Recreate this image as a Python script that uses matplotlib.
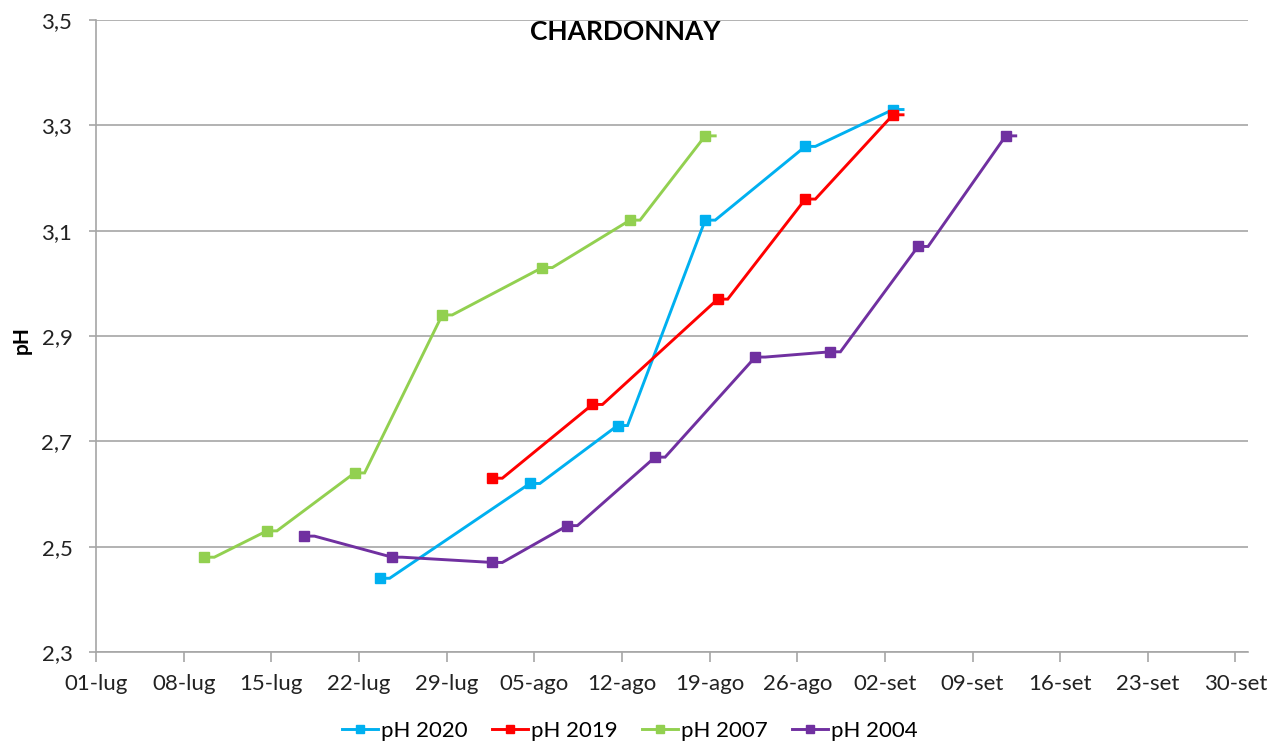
import numpy as np
import matplotlib
matplotlib.use('Agg')
import matplotlib.pyplot as plt
import matplotlib.dates as mdates
from matplotlib.ticker import FuncFormatter

# sampling dates (year is only a placeholder, the axis shows day-month)
dates_2020 = ['2020-07-23', '2020-08-04', '2020-08-11', '2020-08-18', '2020-08-26', '2020-09-02']
ph_2020 = [2.44, 2.62, 2.73, 3.12, 3.26, 3.33]

dates_2019 = ['2020-08-01', '2020-08-09', '2020-08-19', '2020-08-26', '2020-09-02']
ph_2019 = [2.63, 2.77, 2.97, 3.16, 3.32]

dates_2007 = ['2020-07-09', '2020-07-14', '2020-07-21', '2020-07-28', '2020-08-05',
              '2020-08-12', '2020-08-18']
ph_2007 = [2.48, 2.53, 2.64, 2.94, 3.03, 3.12, 3.28]

dates_2004 = ['2020-07-17', '2020-07-24', '2020-08-01', '2020-08-07', '2020-08-14',
              '2020-08-22', '2020-08-28', '2020-09-04', '2020-09-11']
ph_2004 = [2.52, 2.48, 2.47, 2.54, 2.67, 2.86, 2.87, 3.07, 3.28]

series = [
    ('pH 2020', dates_2020, ph_2020, '#00B0F0'),
    ('pH 2019', dates_2019, ph_2019, '#FF0000'),
    ('pH 2007', dates_2007, ph_2007, '#92D050'),
    ('pH 2004', dates_2004, ph_2004, '#7030A0'),
]

mesi = {7: 'lug', 8: 'ago', 9: 'set', 10: 'ott'}

plt.rcParams['font.family'] = ['Lato', 'DejaVu Sans']

fig = plt.figure(figsize=(12.82, 7.45), dpi=100)
ax = fig.add_axes([96 / 1282, 1 - 652 / 745, (1248 - 96) / 1282, (652 - 20) / 745])

for label, dates, ph, color in series:
    # Excel puts the point inside the day slot; the line keeps a short flat tail
    x = mdates.date2num(np.array(dates, dtype='datetime64[D]')) + 0.65
    xx = np.column_stack([x, x + 0.8]).ravel()
    yy = np.repeat(ph, 2)
    ax.plot(xx, yy, color=color, lw=2.1, marker='s', markersize=7.5,
            markevery=2, label=label, solid_joinstyle='miter')

start = mdates.date2num(np.datetime64('2020-07-01'))
end = mdates.date2num(np.datetime64('2020-10-01'))
ax.set_xlim(start, end)
ax.set_xticks(np.arange(start, end, 7))
ax.xaxis.set_major_formatter(FuncFormatter(
    lambda v, pos: f"{mdates.num2date(v).day:02d}-{mesi[mdates.num2date(v).month]}"))

ax.set_ylim(2.3, 3.5)
yt = np.arange(2.3, 3.51, 0.2)
ax.set_yticks(yt)
ax.set_yticklabels([f"{v:.1f}".replace('.', ',') for v in yt])

ax.grid(axis='y', color='#a6a6a6', lw=1.2)
ax.set_axisbelow(True)
for s in ['top', 'right']:
    ax.spines[s].set_visible(False)
for s in ['left', 'bottom']:
    ax.spines[s].set_color('#a6a6a6')
    ax.spines[s].set_linewidth(1.2)

ax.tick_params(axis='x', length=7, width=1.2, color='#a6a6a6', pad=9,
               labelsize=16, labelcolor='#222222')
ax.tick_params(axis='y', length=5, width=1.2, color='#a6a6a6', pad=12,
               labelsize=16, labelcolor='#222222')

fig.text(22 / 1282, 1 - 340 / 745, 'pH', rotation=90, ha='center', va='center',
         fontsize=15, fontweight='bold')
fig.text(625 / 1282, 1 - 32 / 745, 'CHARDONNAY', ha='center', va='center',
         fontsize=19, fontweight='bold')

fig.legend(loc='center', bbox_to_anchor=(630 / 1282, 1 - 731 / 745), ncol=4,
           frameon=False, fontsize=16, handlelength=1.6, handletextpad=0.15,
           columnspacing=1.1, markerscale=0.85)

fig.savefig('out.png', dpi=100)
